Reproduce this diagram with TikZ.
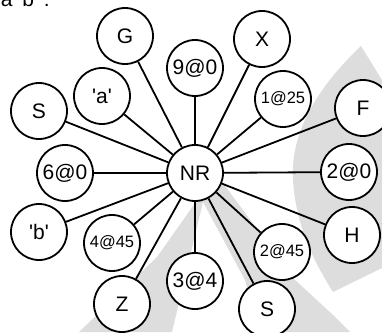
\documentclass[tikz,border=0pt]{standalone}
\usepackage{fontspec}
\setmainfont{Liberation Sans}
\definecolor{wmgray}{RGB}{221,221,221}
\newcommand{\quoted}[1]{\textquotesingle#1\textquotesingle}

\begin{document}
\begin{tikzpicture}[x=1pt, y=-1pt, line width=1.8pt,
    vertex/.style={circle, draw, fill=white, minimum size=56pt, inner sep=0pt,
      font=\fontsize{21}{25}\selectfont},
    small/.style={font=\fontsize{16.5}{20}\selectfont}]
  \useasboundingbox (0,0) rectangle (382,332);
  % watermark behind the graph
  \fill[wmgray] (361,46) .. controls (320,85) and (290,130) .. (293,180)
    .. controls (296,230) and (318,268) .. (333,292) -- (382,268) -- (382,80) -- cycle;
  \fill[wmgray] (210,182) -- (220,179) -- (293,278) -- (333,315) -- (350,332)
    -- (258,332) -- (245,280) -- (203,202) -- (172,332) -- (79,332) -- (157,257) -- cycle;
  % cut-off line of text above
  \begin{scope}
    \clip (0,0) rectangle (382,332);
    \node[anchor=base west, inner sep=0pt, font=\fontsize{21}{25}\selectfont] (caption) at (0,6) {a \quoted{b} :};
  \end{scope}
  \node[vertex] (NR) at (195,173) {NR};
  \node[vertex] (G) at (125,36) {G};
  \node[vertex] (qa) at (102,96) {\quoted{a}};
  \node[vertex] (Sa) at (39,111) {S};
  \node[vertex] (n90) at (195,68) {9@0};
  \node[vertex] (X) at (262,39) {X};
  \node[vertex, small] (n125) at (283,99) {1@25};
  \node[vertex] (F) at (363,108) {F};
  \node[vertex] (n60) at (65,173) {6@0};
  \node[vertex] (n20) at (349,172) {2@0};
  \node[vertex] (qb) at (39,232) {\quoted{b}};
  \node[vertex, small] (n445) at (112,243) {4@45};
  \node[vertex] (Z) at (122,304) {Z};
  \node[vertex] (n34) at (195,281) {3@4};
  \node[vertex] (H) at (352,235) {H};
  \node[vertex, small] (n245) at (282,252) {2@45};
  \node[vertex] (Sb) at (267,309) {S};
  \foreach \n in {G,qa,Sa,n90,X,n125,F,n60,n20,qb,n445,Z,n34,H,n245,Sb}
    \draw (NR) -- (\n);
\end{tikzpicture}
\end{document}
